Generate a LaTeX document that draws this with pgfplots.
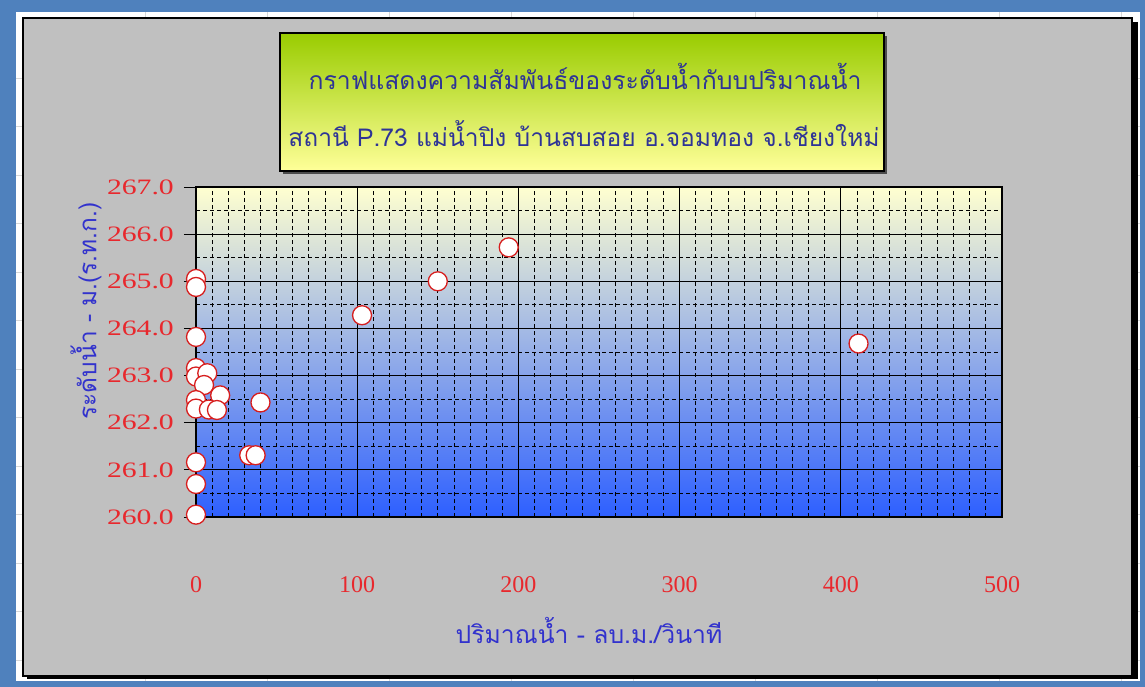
\documentclass[border=0pt]{standalone}
\usepackage{pgfplots}
\pgfplotsset{compat=1.18}
\usepackage{fontspec}
\setmainfont{Liberation Serif}
\newfontfamily\thaifont[Script=Thai]{Loma}
\newfontfamily\tickfont{Liberation Serif}

\definecolor{frameblue}{RGB}{79,129,189}
\definecolor{chartgrey}{RGB}{192,192,192}
\definecolor{cellline}{RGB}{215,215,215}
\definecolor{titlegreen}{RGB}{153,204,0}
\definecolor{titleyellow}{RGB}{255,255,153}
\definecolor{titleblue}{RGB}{46,52,150}
\definecolor{labelblue}{RGB}{50,50,205}
\definecolor{tickred}{RGB}{232,40,45}
\definecolor{markred}{RGB}{215,30,30}
\definecolor{bgtop}{RGB}{255,255,208}
\definecolor{bgmid}{RGB}{205,210,232}
\definecolor{bgbot}{RGB}{45,95,255}

\begin{document}
\begin{tikzpicture}
\useasboundingbox (0,0) rectangle (1145bp,-687bp);
% frame and sheet
\fill[frameblue] (0,0) rectangle (1145bp,-687bp);
\fill[white] (16bp,-12bp) rectangle (1140bp,-681bp);
\foreach \x in {145,267,389,511,633,755,877,999,1121}
  \draw[cellline] (\x bp,-12bp) -- (\x bp,-681bp);
\foreach \y in {78,126,175,223,272,320,369,417,466,514,563,611,660}
  \draw[cellline] (16bp,-\y bp) -- (1140bp,-\y bp);
% chart area
\fill[black] (27bp,-22bp) rectangle (1138bp,-679bp);
\fill[chartgrey, draw=black, line width=1.5bp] (23bp,-18bp) rectangle (1132bp,-676bp);
% title box
\fill[black!70] (283bp,-36bp) rectangle (887bp,-174bp);
\shade[top color=titlegreen, bottom color=titleyellow, draw=black, line width=1.2bp]
  (280bp,-33bp) rectangle (884bp,-171bp);
\node[text=titleblue, font=\thaifont\fontsize{24.8bp}{28bp}\selectfont] at (585bp,-76bp)
  {กราฟแสดงความสัมพันธ์ของระดับน้ำกับบปริมาณน้ำ};
\node[text=titleblue, font=\thaifont\fontsize{24.6bp}{28bp}\selectfont] at (584bp,-134bp)
  {สถานี P.73 แม่น้ำปิง บ้านสบสอย อ.จอมทอง จ.เชียงใหม่};
% axis labels
\node[text=labelblue, rotate=90, font=\thaifont\fontsize{24.5bp}{26bp}\selectfont] at (86bp,-311bp)
  {ระดับน้ำ - ม.(ร.ท.ก.)};
\node[text=labelblue, font=\thaifont\fontsize{24.7bp}{26bp}\selectfont] at (589bp,-630bp)
  {ปริมาณน้ำ - ลบ.ม./วินาที};

\begin{axis}[
  at={(196bp,-517bp)}, anchor=south west,
  scale only axis, width=806bp, height=330bp,
  xmin=0, xmax=500, ymin=260, ymax=267,
  xtick={0,100,...,500}, ytick={260,261,...,267},
  minor x tick num=9, minor y tick num=1,
  grid=both,
  major grid style={black, line width=1bp},
  minor grid style={black, line width=0.8bp, dash pattern=on 4bp off 3bp},
  axis line style={black, line width=1.2bp},
  axis background/.style={top color=bgtop, middle color=bgmid, bottom color=bgbot},
  tick pos=left,
  tick align=outside, major tick length=12bp, minor tick length=0pt,
  xtick style={draw=none}, ytick style={black, line width=1bp},
  /pgf/number format/assume math mode=true,
  yticklabel style={font=\tickfont\fontsize{22bp}{24bp}\selectfont, text=tickred,
    xscale=1.35, xshift=-4bp,
    /pgf/number format/fixed, /pgf/number format/fixed zerofill, /pgf/number format/precision=1},
  xticklabel style={font=\tickfont\fontsize{24bp}{26bp}\selectfont, text=tickred, yshift=-44bp},
  clip=false,
]
\addplot[only marks, mark=*, mark size=9.5bp,
  mark options={fill=white, draw=markred, line width=1.3bp}] table {
x y
0 265.05
0 264.88
0 263.82
0 263.16
0 262.98
7 263.05
5 262.80
15 262.58
0 262.48
0 262.30
8 262.28
13 262.27
40 262.43
33 261.31
37 261.31
0 261.16
0 260.70
0 260.05
103 264.28
150 265.00
194 265.72
411 263.68
};
\end{axis}
\end{tikzpicture}
\end{document}
